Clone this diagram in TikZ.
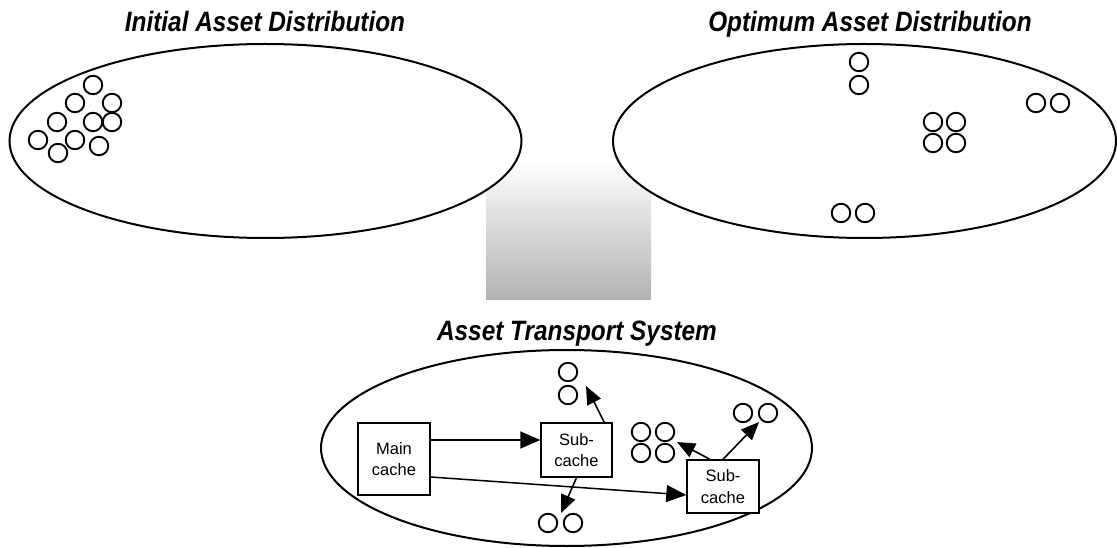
\documentclass[tikz,border=0pt]{standalone}
\usepackage{fontspec}
\setmainfont{Liberation Sans}
\usetikzlibrary{arrows.meta}
\tikzset{
  region/.style={draw=black, line width=2pt, fill=white},
  asset/.style={circle, draw=black, line width=1.9pt, minimum size=18.5pt, inner sep=0pt},
  cachebox/.style={draw=black, line width=1.4pt, fill=white, align=center, inner sep=0pt,
    font=\fontsize{16.5}{21.5}\selectfont},
  arr/.style={line width=1.5pt, -{Triangle[length=20pt,width=17pt]}},
  sarr/.style={line width=1.6pt, -{Triangle[length=18pt,width=15pt]}},
  title/.style={anchor=base, inner sep=0pt, font=\fontsize{28}{30}\selectfont\bfseries\itshape}
}
\begin{document}
\begin{tikzpicture}[x=1pt,y=-1pt]
\useasboundingbox (0,0) rectangle (1117,548);
% gradient transport block
\shade[top color=white, bottom color=gray!60] (486,160) rectangle (651,299);
% regions
\draw[region] (265.5,141) ellipse [x radius=256, y radius=97];
\draw[region] (864.5,141) ellipse [x radius=251.5, y radius=97];
\draw[region] (566.5,448) ellipse [x radius=245.5, y radius=98];
% titles
\node[title] (t1) at (265,32) {\scalebox{0.87}[1]{Initial Asset Distribution}};
\node[title] (t2) at (870,32) {\scalebox{0.87}[1]{Optimum Asset Distribution}};
\node[title] (t3) at (577,340) {\scalebox{0.87}[1]{Asset Transport System}};
% initial distribution
\node[asset] (i1) at (93,85) {};
\node[asset] (i2) at (75,103) {};
\node[asset] (i3) at (112,103) {};
\node[asset] (i4) at (57,122) {};
\node[asset] (i5) at (93,122) {};
\node[asset] (i6) at (112,122) {};
\node[asset] (i7) at (38,140) {};
\node[asset] (i8) at (75,140) {};
\node[asset] (i9) at (99,146) {};
\node[asset] (i10) at (58,153) {};
% optimum distribution
\node[asset] (o1) at (859,62) {};
\node[asset] (o2) at (859,85) {};
\node[asset] (o3) at (933,122) {};
\node[asset] (o4) at (956,122) {};
\node[asset] (o5) at (933,143) {};
\node[asset] (o6) at (956,143) {};
\node[asset] (o7) at (1036,103) {};
\node[asset] (o8) at (1060,103) {};
\node[asset] (o9) at (841,213) {};
\node[asset] (o10) at (865,213) {};
% transport system
\node[cachebox, minimum width=72pt, minimum height=72pt] (m) at (394,459) {Main\\cache};
\node[cachebox, minimum width=71pt, minimum height=54pt] (s1) at (576.5,450) {Sub-\\cache};
\node[cachebox, minimum width=72pt, minimum height=53pt] (s2) at (723,486.5) {Sub-\\cache};
\node[asset] (b1) at (568,372) {};
\node[asset] (b2) at (568,395) {};
\node[asset] (b3) at (548,523) {};
\node[asset] (b4) at (573,523) {};
\node[asset] (b5) at (641,432) {};
\node[asset] (b6) at (665,432) {};
\node[asset] (b7) at (641,453) {};
\node[asset] (b8) at (665,453) {};
\node[asset] (b9) at (743,413) {};
\node[asset] (b10) at (768,413) {};
% arrow tips
\coordinate (p1) at (586,386);
\coordinate (p2) at (561,513);
\coordinate (p3) at (677,442);
\coordinate (p4) at (759,422);
% connectors
\draw[arr] ([yshift=19pt]m.east) coordinate (q) -- (q -| s1.west);
\draw[arr] ([yshift=-18pt]m.east) -- ([yshift=-8.5pt]s2.west);
\draw[sarr] (s1.45) -- (p1);
\draw[sarr] (s1.south) -- (p2);
\draw[sarr] ([xshift=-13pt]s2.north) -- (p3);
\draw[sarr] (s2.north) -- (p4);
\end{tikzpicture}
\end{document}
